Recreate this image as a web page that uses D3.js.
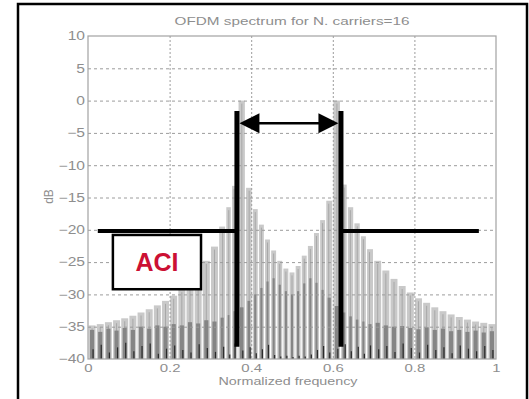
<!DOCTYPE html>
<html>
<head>
<meta charset="utf-8">
<script src="https://cdn.jsdelivr.net/npm/d3@7/dist/d3.min.js"></script>
<style>
  body { margin: 0; background: #fff; }
  svg { display: block; }
  text { font-family: "Liberation Sans", Arial, sans-serif; }
</style>
</head>
<body>
<svg id="chart" width="529" height="399"></svg>
<script>
// lobe centres (normalized frequency) and their peak levels in dB
const freqs = [0.01, 0.03, 0.05, 0.07, 0.09, 0.11, 0.13, 0.15, 0.17, 0.19,
  0.21, 0.23, 0.25, 0.27, 0.29, 0.31, 0.33, 0.345, 0.358, 0.377,
  0.395, 0.41, 0.425, 0.44, 0.455, 0.47, 0.485, 0.5, 0.515, 0.53,
  0.545, 0.56, 0.575, 0.59, 0.61, 0.628, 0.643, 0.66, 0.675, 0.69,
  0.71, 0.73, 0.75, 0.77, 0.79, 0.81, 0.83, 0.85, 0.87, 0.89,
  0.91, 0.93, 0.95, 0.97, 0.99];
const lightDb = [-34.8, -34.6, -34.3, -34.0, -33.7, -33.3, -32.8, -32.3, -31.7, -31.0,
  -30.2, -29.2, -28.0, -26.6, -24.8, -22.6, -19.5, -16.5, -13.2, 0,
  -13.5, -16.8, -19.2, -21.5, -23.2, -24.8, -26.0, -26.6, -25.6, -24.0,
  -22.5, -20.5, -18.5, -15.5, 0, -13.0, -16.5, -19.0, -21.0, -23.0,
  -24.8, -26.3, -27.6, -28.7, -29.7, -30.6, -31.3, -32.0, -32.6, -33.1,
  -33.5, -33.9, -34.2, -34.4, -34.6];
const darkDb = [-35.5, -35.8, -35.3, -35.6, -35.2, -35.5, -35.0, -35.3, -34.8, -35.0,
  -34.6, -34.8, -34.3, -34.5, -34.0, -34.2, -33.6, -33.2, -32.6, -32.0,
  -31.0, -30.0, -29.0, -28.0, -27.5, -28.5, -29.5, -30.0, -29.5, -28.3,
  -27.5, -28.2, -29.3, -30.5, -31.8, -32.8, -33.4, -33.9, -34.2, -34.6,
  -34.4, -34.8, -35.0, -34.9, -35.2, -35.4, -35.1, -35.5, -35.3, -35.7,
  -35.5, -35.8, -35.6, -35.9, -35.7];
const floorDb = [-38.5, -37.8, -39.0, -38.2, -37.5, -38.8, -38.0, -37.6, -39.2, -38.4,
  -37.9, -38.6, -39.0, -37.7, -38.3, -38.9, -38.1, -39.3, -37.6, -38.7,
  -38.2, -39.1, -38.5, -37.8, -39.4, -39.6, -39.5, -39.7, -39.5, -39.6,
  -39.3, -38.6, -38.0, -39.0, -38.4, -37.7, -38.8, -38.1, -39.2, -37.9,
  -38.5, -38.0, -38.9, -37.6, -38.3, -39.0, -37.8, -38.6, -38.2, -39.1,
  -37.9, -38.4, -38.8, -38.0, -38.6];

const xTicks = [0, 0.2, 0.4, 0.6, 0.8, 1];
const xTickLabels = ['0', '0.2', '0.4', '0.6', '0.8', '1'];
const yTicks = [10, 5, 0, -5, -10, -15, -20, -25, -30, -35, -40];
const titleText = 'OFDM spectrum for N. carriers=16';
const xLabel = 'Normalized frequency';
const yLabel = 'dB';

// annotation, in data units
const bandEdges = [0.365, 0.62];
const bandTop = -1.6, bandBottom = -38.1;
const arrowDb = -3.5;
const aciLevel = -20.2;
const aciSpan = [0.024, 0.958];
const aciBox = {f0: 0.061, f1: 0.277, top: -20.8, bottom: -29.2};
const aciText = 'ACI';

const svg = d3.select('#chart');
const margin = {top: 36, right: 33, bottom: 40, left: 88};
const width = 529, height = 399;

const x = d3.scaleLinear().domain([0, 1]).range([margin.left, width - margin.right]);
const y = d3.scaleLinear().domain([-40, 10]).range([height - margin.bottom, margin.top]);

// outer frame of the figure
svg.append('rect')
  .attr('x', 18).attr('y', 4).attr('width', 509).attr('height', 430)
  .attr('fill', '#fff').attr('stroke', '#000').attr('stroke-width', 2.5);

function stretch(sel, k) {
  sel.each(function () {
    const w = this.getComputedTextLength();
    d3.select(this).attr('textLength', w * k).attr('lengthAdjust', 'spacingAndGlyphs');
  });
}

// bar edges halfway between neighbouring lobes
const edges = freqs.map((f, i) => {
  const l = i === 0 ? 0 : (freqs[i - 1] + f) / 2;
  const r = i === freqs.length - 1 ? 1 : (f + freqs[i + 1]) / 2;
  return [l, r];
});

const plot = svg.append('g');

plot.selectAll('rect.light')
  .data(freqs)
  .join('rect')
  .attr('class', 'light')
  .attr('x', (d, i) => x(edges[i][0]) + 0.6)
  .attr('width', (d, i) => Math.max(1.5, x(edges[i][1]) - x(edges[i][0]) - 1.2))
  .attr('y', (d, i) => y(lightDb[i]))
  .attr('height', (d, i) => y(-40) - y(lightDb[i]))
  .attr('fill', '#c9c9c9');

plot.selectAll('line.lightc')
  .data(freqs)
  .join('line')
  .attr('class', 'lightc')
  .attr('x1', d => x(d)).attr('x2', d => x(d))
  .attr('y1', (d, i) => y(lightDb[i]) + 3)
  .attr('y2', y(-40))
  .attr('stroke', '#a8a8a8').attr('stroke-width', 1);

plot.selectAll('rect.dark')
  .data(freqs)
  .join('rect')
  .attr('class', 'dark')
  .attr('x', (d, i) => x(edges[i][0]) + 2)
  .attr('width', (d, i) => Math.max(1, x(edges[i][1]) - x(edges[i][0]) - 4))
  .attr('y', (d, i) => y(darkDb[i]))
  .attr('height', (d, i) => y(-40) - y(darkDb[i]))
  .attr('fill', '#858585');

plot.selectAll('line.floor')
  .data(freqs)
  .join('line')
  .attr('class', 'floor')
  .attr('x1', d => x(d) + 1).attr('x2', d => x(d) + 1)
  .attr('y1', (d, i) => y(floorDb[i]))
  .attr('y2', y(-40))
  .attr('stroke', '#2a2a2a').attr('stroke-width', 1.2);

// grid
const grid = svg.append('g').attr('stroke', '#9c9c9c').attr('stroke-width', 1);
grid.selectAll('line.h')
  .data(yTicks.slice(1, -1))
  .join('line')
  .attr('x1', x(0)).attr('x2', x(1))
  .attr('y1', d => y(d) + 0.5).attr('y2', d => y(d) + 0.5)
  .attr('stroke-dasharray', '3,3');
grid.selectAll('line.v')
  .data(xTicks.slice(1, -1))
  .join('line')
  .attr('x1', d => x(d) + 0.5).attr('x2', d => x(d) + 0.5)
  .attr('y1', y(10)).attr('y2', y(-40))
  .attr('stroke-dasharray', '2,2');

// axes box
svg.append('rect')
  .attr('x', x(0)).attr('y', y(10))
  .attr('width', x(1) - x(0)).attr('height', y(-40) - y(10))
  .attr('fill', 'none').attr('stroke', '#a2a2a2').attr('stroke-width', 1.2);

const xAxis = svg.append('g')
  .attr('transform', `translate(0,${y(-40)})`)
  .call(d3.axisBottom(x).tickValues(xTicks).tickFormat((d, i) => xTickLabels[i]).tickSize(0).tickPadding(13));
xAxis.select('.domain').remove();
xAxis.selectAll('text').attr('fill', '#8e8e8e').style('font-size', '11.5px')
  .attr('dy', '0').call(stretch, 1.3);

const yAxis = svg.append('g')
  .attr('transform', `translate(${x(0)},0)`)
  .call(d3.axisLeft(y).tickValues(yTicks).tickSize(0).tickPadding(3));
yAxis.select('.domain').remove();
yAxis.selectAll('text').attr('fill', '#8e8e8e').style('font-size', '12px').call(stretch, 1.3);

svg.append('text')
  .attr('x', (x(0) + x(1)) / 2).attr('y', 25)
  .attr('text-anchor', 'middle').attr('fill', '#8e8e8e').style('font-size', '11.5px')
  .text(titleText).call(stretch, 1.33);

svg.append('text')
  .attr('x', (x(0) + x(1)) / 2 - 4).attr('y', 385)
  .attr('text-anchor', 'middle').attr('fill', '#8e8e8e').style('font-size', '11px')
  .text(xLabel).call(stretch, 1.3);

svg.append('text')
  .attr('transform', `translate(53,${y(-15) - 1}) rotate(-90)`)
  .attr('text-anchor', 'middle').attr('fill', '#8e8e8e').style('font-size', '12px')
  .text(yLabel);

// annotation
const ann = svg.append('g');
ann.append('line')
  .attr('x1', x(aciSpan[0])).attr('x2', x(bandEdges[0]))
  .attr('y1', y(aciLevel)).attr('y2', y(aciLevel))
  .attr('stroke', '#000').attr('stroke-width', 4);
ann.append('line')
  .attr('x1', x(bandEdges[1])).attr('x2', x(aciSpan[1]))
  .attr('y1', y(aciLevel)).attr('y2', y(aciLevel))
  .attr('stroke', '#000').attr('stroke-width', 4);
ann.selectAll('line.edge')
  .data(bandEdges)
  .join('line')
  .attr('class', 'edge')
  .attr('x1', d => x(d)).attr('x2', d => x(d))
  .attr('y1', y(bandTop)).attr('y2', y(bandBottom))
  .attr('stroke', '#000').attr('stroke-width', 5);

const ax0 = x(bandEdges[0]) + 2.5, ax1 = x(bandEdges[1]) - 2.5, ay = y(arrowDb);
const headLen = 20, headHalf = 10;
ann.append('line')
  .attr('x1', ax0 + headLen - 2).attr('x2', ax1 - headLen + 2)
  .attr('y1', ay).attr('y2', ay)
  .attr('stroke', '#000').attr('stroke-width', 2.5);
ann.append('path')
  .attr('d', `M${ax0},${ay}L${ax0 + headLen},${ay - headHalf}L${ax0 + headLen},${ay + headHalf}Z`)
  .attr('fill', '#000');
ann.append('path')
  .attr('d', `M${ax1},${ay}L${ax1 - headLen},${ay - headHalf}L${ax1 - headLen},${ay + headHalf}Z`)
  .attr('fill', '#000');

ann.append('rect')
  .attr('x', x(aciBox.f0)).attr('y', y(aciBox.top))
  .attr('width', x(aciBox.f1) - x(aciBox.f0))
  .attr('height', y(aciBox.bottom) - y(aciBox.top))
  .attr('fill', '#fff').attr('stroke', '#000').attr('stroke-width', 2.5);
ann.append('text')
  .attr('x', (x(aciBox.f0) + x(aciBox.f1)) / 2)
  .attr('y', (y(aciBox.top) + y(aciBox.bottom)) / 2 + 9)
  .attr('text-anchor', 'middle')
  .attr('fill', '#cc1034')
  .style('font-size', '25px').style('font-weight', 'bold')
  .text(aciText);
</script>
</body>
</html>
